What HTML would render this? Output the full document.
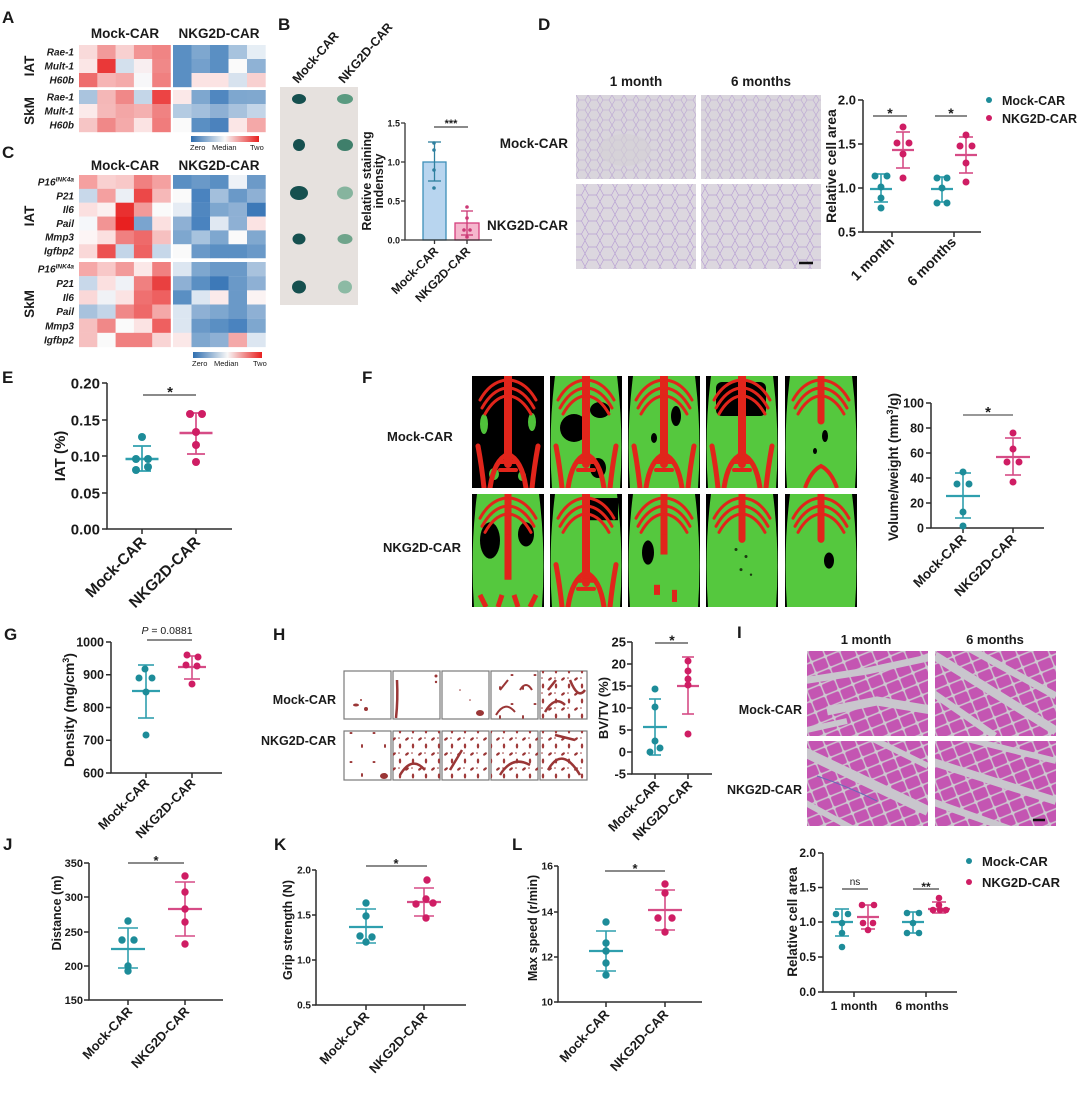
<!DOCTYPE html>
<html><head><meta charset="utf-8"><style>
html,body{margin:0;padding:0;background:#fff;}
svg{display:block;}
text{font-family:"Liberation Sans",Arial,sans-serif;font-weight:bold;fill:#1a1a1a;}
</style></head><body>
<svg width="1080" height="1095" viewBox="0 0 1080 1095" xmlns="http://www.w3.org/2000/svg">
<defs>
 <linearGradient id="cb" x1="0" x2="1" y1="0" y2="0">
  <stop offset="0" stop-color="#2f6fb0"/><stop offset="0.5" stop-color="#f7f7f7"/><stop offset="1" stop-color="#e8201f"/>
 </linearGradient>
 <pattern id="adi" width="12" height="10" patternUnits="userSpaceOnUse">
  <rect width="12" height="10" fill="#d9d5dc"/>
  <path d="M0 5 L3 0 L9 0 L12 5 L9 10 L3 10 Z" fill="none" stroke="#bba6d3" stroke-width="0.6"/>
 </pattern>
 <pattern id="adi2" width="15" height="13" patternUnits="userSpaceOnUse">
  <rect width="15" height="13" fill="#dcd7df"/>
  <path d="M0 6.5 L3.5 0 L11.5 0 L15 6.5 L11.5 13 L3.5 13 Z" fill="none" stroke="#b9a0d4" stroke-width="0.7"/>
 </pattern>
 <pattern id="mus" width="15" height="12" patternUnits="userSpaceOnUse" patternTransform="rotate(-22)">
  <rect width="15" height="12" fill="#cdc8d0"/>
  <rect x="0.7" y="0.7" width="13.6" height="10.6" rx="2" fill="#c455b2"/>
 </pattern>
 <pattern id="spA" width="23" height="29" patternUnits="userSpaceOnUse">
  <ellipse cx="6" cy="8" rx="1.5" ry="1" fill="#9a3636"/>
  <ellipse cx="17" cy="21" rx="1" ry="2" fill="#9a3636"/>
 </pattern>
 <pattern id="spB" width="13" height="15" patternUnits="userSpaceOnUse">
  <ellipse cx="4" cy="4" rx="2.2" ry="1.2" fill="#9a3636" transform="rotate(-40 4 4)"/>
  <ellipse cx="10" cy="11" rx="1.2" ry="2.5" fill="#a03a3a"/>
  <circle cx="9" cy="3" r="0.8" fill="#9a3636"/>
 </pattern>
 <g id="skel" fill="none" stroke="#e1251b" stroke-linecap="round">
  <path d="M36 0 V88" stroke-width="8"/>
  <path d="M34 4 Q18 6 8 24 M34 12 Q20 14 10 32 M34 20 Q22 22 13 38 M38 4 Q54 6 64 24 M38 12 Q52 14 62 32 M38 20 Q50 22 59 38" stroke-width="3"/>
  <path d="M36 78 Q22 84 18 112 M36 78 Q50 84 54 112 M6 70 Q10 92 12 112 M66 70 Q62 92 60 112" stroke-width="5"/>
  <path d="M28 86 H44 M28 94 H44" stroke-width="4"/>
 </g>
 <g id="ribs" fill="none" stroke="#e1251b" stroke-linecap="round">
  <path d="M36 0 V45" stroke-width="7"/>
  <path d="M34 4 Q18 6 8 24 M34 12 Q20 14 10 32 M34 20 Q22 22 13 38 M38 4 Q54 6 64 24 M38 12 Q52 14 62 32 M38 20 Q50 22 59 38" stroke-width="3"/>
 </g>
 <path id="body" d="M5 0 H67 Q74 56 70 112 H2 Q-2 56 5 0Z" fill="#55c83e"/>
</defs>

<!-- ================= A ================= -->
<text x="2" y="23" font-size="17">A</text>
<text x="125" y="38" font-size="13.5" text-anchor="middle">Mock-CAR</text>
<text x="219" y="38" font-size="13.5" text-anchor="middle">NKG2D-CAR</text>
<g>
<rect x="79" y="45" width="18.6" height="14.2" fill="#f9dada"/><rect x="97.3" y="45" width="18.6" height="14.2" fill="#f29a9a"/><rect x="115.6" y="45" width="18.6" height="14.2" fill="#f8d0d0"/><rect x="133.9" y="45" width="18.6" height="14.2" fill="#f29494"/><rect x="152.2" y="45" width="18.6" height="14.2" fill="#f08484"/>
<rect x="173" y="45" width="18.7" height="14.2" fill="#5a8fc3"/><rect x="191.5" y="45" width="18.7" height="14.2" fill="#7ea7cf"/><rect x="210" y="45" width="18.7" height="14.2" fill="#5a8fc3"/><rect x="228.5" y="45" width="18.7" height="14.2" fill="#a7c3de"/><rect x="247" y="45" width="18.7" height="14.2" fill="#e6eef5"/>
<rect x="79" y="59" width="18.6" height="14.2" fill="#fbe6e6"/><rect x="97.3" y="59" width="18.6" height="14.2" fill="#ea3838"/><rect x="115.6" y="59" width="18.6" height="14.2" fill="#d3e0ed"/><rect x="133.9" y="59" width="18.6" height="14.2" fill="#f8eef0"/><rect x="152.2" y="59" width="18.6" height="14.2" fill="#f08888"/>
<rect x="173" y="59" width="18.7" height="14.2" fill="#5a8fc3"/><rect x="191.5" y="59" width="18.7" height="14.2" fill="#74a0cc"/><rect x="210" y="59" width="18.7" height="14.2" fill="#5a8fc3"/><rect x="228.5" y="59" width="18.7" height="14.2" fill="#fafafa"/><rect x="247" y="59" width="18.7" height="14.2" fill="#8fb2d5"/>
<rect x="79" y="73" width="18.6" height="14.2" fill="#ee6c6c"/><rect x="97.3" y="73" width="18.6" height="14.2" fill="#f6b4b4"/><rect x="115.6" y="73" width="18.6" height="14.2" fill="#f4aaaa"/><rect x="133.9" y="73" width="18.6" height="14.2" fill="#f7f7f9"/><rect x="152.2" y="73" width="18.6" height="14.2" fill="#f08080"/>
<rect x="173" y="73" width="18.7" height="14.2" fill="#5a8fc3"/><rect x="191.5" y="73" width="18.7" height="14.2" fill="#fbe3e3"/><rect x="210" y="73" width="18.7" height="14.2" fill="#fbe3e3"/><rect x="228.5" y="73" width="18.7" height="14.2" fill="#d7e2ee"/><rect x="247" y="73" width="18.7" height="14.2" fill="#f8d0d0"/>

<rect x="79" y="90" width="18.6" height="14.2" fill="#aac4de"/><rect x="97.3" y="90" width="18.6" height="14.2" fill="#f4b7b7"/><rect x="115.6" y="90" width="18.6" height="14.2" fill="#f08888"/><rect x="133.9" y="90" width="18.6" height="14.2" fill="#c4d6e8"/><rect x="152.2" y="90" width="18.6" height="14.2" fill="#ec4444"/>
<rect x="173" y="90" width="18.7" height="14.2" fill="#fbe8e8"/><rect x="191.5" y="90" width="18.7" height="14.2" fill="#7ea7cf"/><rect x="210" y="90" width="18.7" height="14.2" fill="#5087c0"/><rect x="228.5" y="90" width="18.7" height="14.2" fill="#7ea7cf"/><rect x="247" y="90" width="18.7" height="14.2" fill="#80a8cf"/>
<rect x="79" y="104" width="18.6" height="14.2" fill="#fbeaea"/><rect x="97.3" y="104" width="18.6" height="14.2" fill="#f5b9b9"/><rect x="115.6" y="104" width="18.6" height="14.2" fill="#f3a6a6"/><rect x="133.9" y="104" width="18.6" height="14.2" fill="#f4b0b0"/><rect x="152.2" y="104" width="18.6" height="14.2" fill="#f08282"/>
<rect x="173" y="104" width="18.7" height="14.2" fill="#b4cbe2"/><rect x="191.5" y="104" width="18.7" height="14.2" fill="#a3bfdc"/><rect x="210" y="104" width="18.7" height="14.2" fill="#8eb0d4"/><rect x="228.5" y="104" width="18.7" height="14.2" fill="#a8c2dd"/><rect x="247" y="104" width="18.7" height="14.2" fill="#c3d5e8"/>
<rect x="79" y="118" width="18.6" height="14.2" fill="#f6c5c5"/><rect x="97.3" y="118" width="18.6" height="14.2" fill="#f08888"/><rect x="115.6" y="118" width="18.6" height="14.2" fill="#f4aaaa"/><rect x="133.9" y="118" width="18.6" height="14.2" fill="#fbe3e3"/><rect x="152.2" y="118" width="18.6" height="14.2" fill="#f07c7c"/>
<rect x="173" y="118" width="18.7" height="14.2" fill="#fafafa"/><rect x="191.5" y="118" width="18.7" height="14.2" fill="#5a8fc3"/><rect x="210" y="118" width="18.7" height="14.2" fill="#4b82bd"/><rect x="228.5" y="118" width="18.7" height="14.2" fill="#fbe6e6"/><rect x="247" y="118" width="18.7" height="14.2" fill="#f4a8a8"/>
</g>
<g font-size="10" font-style="italic" text-anchor="end">
<text x="74" y="55.5">Rae-1</text><text x="74" y="69.5">Mult-1</text><text x="74" y="83.5">H60b</text>
<text x="74" y="100.5">Rae-1</text><text x="74" y="114.5">Mult-1</text><text x="74" y="128.5">H60b</text>
</g>
<text transform="translate(34,66) rotate(-90)" font-size="13.5" text-anchor="middle">IAT</text>
<text transform="translate(34,111) rotate(-90)" font-size="13.5" text-anchor="middle">SkM</text>
<rect x="191" y="136" width="68" height="6" fill="url(#cb)"/>
<g font-size="7.5" fill="#333"><text x="190" y="150" style="font-weight:normal">Zero</text><text x="212" y="150" style="font-weight:normal">Median</text><text x="250" y="150" style="font-weight:normal">Two</text></g>

<!-- ================= C ================= -->
<text x="2" y="158" font-size="17">C</text>
<text x="125" y="170" font-size="13.5" text-anchor="middle">Mock-CAR</text>
<text x="219" y="170" font-size="13.5" text-anchor="middle">NKG2D-CAR</text>
<g>
<rect x="79" y="175" width="18.6" height="14" fill="#f5a0a0"/><rect x="97.3" y="175" width="18.6" height="14" fill="#f9d0d0"/><rect x="115.6" y="175" width="18.6" height="14" fill="#f8c8c8"/><rect x="133.9" y="175" width="18.6" height="14" fill="#f08080"/><rect x="152.2" y="175" width="18.6" height="14" fill="#f4a0a0"/>
<rect x="173" y="175" width="18.7" height="14" fill="#5a8fc3"/><rect x="191.5" y="175" width="18.7" height="14" fill="#6a99c8"/><rect x="210" y="175" width="18.7" height="14" fill="#5a8fc3"/><rect x="228.5" y="175" width="18.7" height="14" fill="#eef2f7"/><rect x="247" y="175" width="18.7" height="14" fill="#6c9ac8"/>
<rect x="79" y="188.85" width="18.6" height="14" fill="#c8d8ea"/><rect x="97.3" y="188.85" width="18.6" height="14" fill="#f4a0a0"/><rect x="115.6" y="188.85" width="18.6" height="14" fill="#ebeff5"/><rect x="133.9" y="188.85" width="18.6" height="14" fill="#ec4848"/><rect x="152.2" y="188.85" width="18.6" height="14" fill="#f6b8b8"/>
<rect x="173" y="188.85" width="18.7" height="14" fill="#fafafa"/><rect x="191.5" y="188.85" width="18.7" height="14" fill="#4a83bf"/><rect x="210" y="188.85" width="18.7" height="14" fill="#a3bfdc"/><rect x="228.5" y="188.85" width="18.7" height="14" fill="#6a99c8"/><rect x="247" y="188.85" width="18.7" height="14" fill="#8eb0d4"/>
<rect x="79" y="202.7" width="18.6" height="14" fill="#fbe0e0"/><rect x="97.3" y="202.7" width="18.6" height="14" fill="#fbf0f0"/><rect x="115.6" y="202.7" width="18.6" height="14" fill="#e93030"/><rect x="133.9" y="202.7" width="18.6" height="14" fill="#f29a9a"/><rect x="152.2" y="202.7" width="18.6" height="14" fill="#fafafa"/>
<rect x="173" y="202.7" width="18.7" height="14" fill="#e6ecf4"/><rect x="191.5" y="202.7" width="18.7" height="14" fill="#5087c0"/><rect x="210" y="202.7" width="18.7" height="14" fill="#7ea7cf"/><rect x="228.5" y="202.7" width="18.7" height="14" fill="#8eb0d4"/><rect x="247" y="202.7" width="18.7" height="14" fill="#3d79b8"/>
<rect x="79" y="216.55" width="18.6" height="14" fill="#f5f7fa"/><rect x="97.3" y="216.55" width="18.6" height="14" fill="#f29494"/><rect x="115.6" y="216.55" width="18.6" height="14" fill="#e82020"/><rect x="133.9" y="216.55" width="18.6" height="14" fill="#7aa4cf"/><rect x="152.2" y="216.55" width="18.6" height="14" fill="#fbe0e0"/>
<rect x="173" y="216.55" width="18.7" height="14" fill="#8eb0d4"/><rect x="191.5" y="216.55" width="18.7" height="14" fill="#4a83bf"/><rect x="210" y="216.55" width="18.7" height="14" fill="#e0e8f2"/><rect x="228.5" y="216.55" width="18.7" height="14" fill="#8eb0d4"/><rect x="247" y="216.55" width="18.7" height="14" fill="#fbe3e3"/>
<rect x="79" y="230.4" width="18.6" height="14" fill="#fdf5f5"/><rect x="97.3" y="230.4" width="18.6" height="14" fill="#fbe0e0"/><rect x="115.6" y="230.4" width="18.6" height="14" fill="#f08080"/><rect x="133.9" y="230.4" width="18.6" height="14" fill="#ee6a6a"/><rect x="152.2" y="230.4" width="18.6" height="14" fill="#f6c0c0"/>
<rect x="173" y="230.4" width="18.7" height="14" fill="#7ea7cf"/><rect x="191.5" y="230.4" width="18.7" height="14" fill="#a7c3de"/><rect x="210" y="230.4" width="18.7" height="14" fill="#7ea7cf"/><rect x="228.5" y="230.4" width="18.7" height="14" fill="#fafafa"/><rect x="247" y="230.4" width="18.7" height="14" fill="#80a8cf"/>
<rect x="79" y="244.25" width="18.6" height="14" fill="#fad8d8"/><rect x="97.3" y="244.25" width="18.6" height="14" fill="#ec5050"/><rect x="115.6" y="244.25" width="18.6" height="14" fill="#c3d5e8"/><rect x="133.9" y="244.25" width="18.6" height="14" fill="#ee6262"/><rect x="152.2" y="244.25" width="18.6" height="14" fill="#c6d7e9"/>
<rect x="173" y="244.25" width="18.7" height="14" fill="#fafafa"/><rect x="191.5" y="244.25" width="18.7" height="14" fill="#6a99c8"/><rect x="210" y="244.25" width="18.7" height="14" fill="#5a8fc3"/><rect x="228.5" y="244.25" width="18.7" height="14" fill="#5a8fc3"/><rect x="247" y="244.25" width="18.7" height="14" fill="#6a99c8"/>
<rect x="79" y="262" width="18.6" height="14.3" fill="#f5a8a8"/><rect x="97.3" y="262" width="18.6" height="14.3" fill="#f8c8c8"/><rect x="115.6" y="262" width="18.6" height="14.3" fill="#f29a9a"/><rect x="133.9" y="262" width="18.6" height="14.3" fill="#fbe8e8"/><rect x="152.2" y="262" width="18.6" height="14.3" fill="#f08080"/>
<rect x="173" y="262" width="18.7" height="14.3" fill="#dce6f1"/><rect x="191.5" y="262" width="18.7" height="14.3" fill="#7ea7cf"/><rect x="210" y="262" width="18.7" height="14.3" fill="#6a99c8"/><rect x="228.5" y="262" width="18.7" height="14.3" fill="#6a99c8"/><rect x="247" y="262" width="18.7" height="14.3" fill="#a8c2dd"/>
<rect x="79" y="276.17" width="18.6" height="14.3" fill="#c8d8ea"/><rect x="97.3" y="276.17" width="18.6" height="14.3" fill="#fbe0e0"/><rect x="115.6" y="276.17" width="18.6" height="14.3" fill="#eff2f7"/><rect x="133.9" y="276.17" width="18.6" height="14.3" fill="#f08080"/><rect x="152.2" y="276.17" width="18.6" height="14.3" fill="#e94040"/>
<rect x="173" y="276.17" width="18.7" height="14.3" fill="#8eb0d4"/><rect x="191.5" y="276.17" width="18.7" height="14.3" fill="#5a8fc3"/><rect x="210" y="276.17" width="18.7" height="14.3" fill="#3d79b8"/><rect x="228.5" y="276.17" width="18.7" height="14.3" fill="#6a99c8"/><rect x="247" y="276.17" width="18.7" height="14.3" fill="#8eb0d4"/>
<rect x="79" y="290.33" width="18.6" height="14.3" fill="#fad8d8"/><rect x="97.3" y="290.33" width="18.6" height="14.3" fill="#f0f2f6"/><rect x="115.6" y="290.33" width="18.6" height="14.3" fill="#fbe3e3"/><rect x="133.9" y="290.33" width="18.6" height="14.3" fill="#ef7070"/><rect x="152.2" y="290.33" width="18.6" height="14.3" fill="#ee6060"/>
<rect x="173" y="290.33" width="18.7" height="14.3" fill="#5a8fc3"/><rect x="191.5" y="290.33" width="18.7" height="14.3" fill="#dce6f1"/><rect x="210" y="290.33" width="18.7" height="14.3" fill="#fbeaea"/><rect x="228.5" y="290.33" width="18.7" height="14.3" fill="#6a99c8"/><rect x="247" y="290.33" width="18.7" height="14.3" fill="#fbf3f3"/>
<rect x="79" y="304.5" width="18.6" height="14.3" fill="#a8c2dd"/><rect x="97.3" y="304.5" width="18.6" height="14.3" fill="#c3d5e8"/><rect x="115.6" y="304.5" width="18.6" height="14.3" fill="#f08888"/><rect x="133.9" y="304.5" width="18.6" height="14.3" fill="#ee6868"/><rect x="152.2" y="304.5" width="18.6" height="14.3" fill="#f4a8a8"/>
<rect x="173" y="304.5" width="18.7" height="14.3" fill="#dce6f1"/><rect x="191.5" y="304.5" width="18.7" height="14.3" fill="#8eb0d4"/><rect x="210" y="304.5" width="18.7" height="14.3" fill="#7ea7cf"/><rect x="228.5" y="304.5" width="18.7" height="14.3" fill="#6a99c8"/><rect x="247" y="304.5" width="18.7" height="14.3" fill="#8eb0d4"/>
<rect x="79" y="318.67" width="18.6" height="14.3" fill="#f6c0c0"/><rect x="97.3" y="318.67" width="18.6" height="14.3" fill="#f08888"/><rect x="115.6" y="318.67" width="18.6" height="14.3" fill="#fafafa"/><rect x="133.9" y="318.67" width="18.6" height="14.3" fill="#fbe3e3"/><rect x="152.2" y="318.67" width="18.6" height="14.3" fill="#ee6060"/>
<rect x="173" y="318.67" width="18.7" height="14.3" fill="#dce6f1"/><rect x="191.5" y="318.67" width="18.7" height="14.3" fill="#6a99c8"/><rect x="210" y="318.67" width="18.7" height="14.3" fill="#5a8fc3"/><rect x="228.5" y="318.67" width="18.7" height="14.3" fill="#4a83bf"/><rect x="247" y="318.67" width="18.7" height="14.3" fill="#7ea7cf"/>
<rect x="79" y="332.83" width="18.6" height="14.3" fill="#f6c0c0"/><rect x="97.3" y="332.83" width="18.6" height="14.3" fill="#fafafa"/><rect x="115.6" y="332.83" width="18.6" height="14.3" fill="#f08080"/><rect x="133.9" y="332.83" width="18.6" height="14.3" fill="#f08080"/><rect x="152.2" y="332.83" width="18.6" height="14.3" fill="#f9d4d4"/>
<rect x="173" y="332.83" width="18.7" height="14.3" fill="#fbe8e8"/><rect x="191.5" y="332.83" width="18.7" height="14.3" fill="#7ea7cf"/><rect x="210" y="332.83" width="18.7" height="14.3" fill="#8eb0d4"/><rect x="228.5" y="332.83" width="18.7" height="14.3" fill="#f4a8a8"/><rect x="247" y="332.83" width="18.7" height="14.3" fill="#dce6f1"/>
</g>
<g font-size="10" font-style="italic" text-anchor="end">
<text x="74" y="185.5">P16<tspan dy="-4" font-size="6.5">INK4a</tspan></text>
<text x="74" y="199.3">P21</text><text x="74" y="213.1">Il6</text><text x="74" y="226.9">Pail</text><text x="74" y="240.7">Mmp3</text><text x="74" y="254.5">Igfbp2</text>
<text x="74" y="272.6">P16<tspan dy="-4" font-size="6.5">INK4a</tspan></text>
<text x="74" y="286.8">P21</text><text x="74" y="301">Il6</text><text x="74" y="315.2">Pail</text><text x="74" y="329.4">Mmp3</text><text x="74" y="343.6">Igfbp2</text>
</g>
<text transform="translate(34,216) rotate(-90)" font-size="13.5" text-anchor="middle">IAT</text>
<text transform="translate(34,304) rotate(-90)" font-size="13.5" text-anchor="middle">SkM</text>
<rect x="193" y="352" width="69" height="6" fill="url(#cb)"/>
<g font-size="7.5" fill="#333"><text x="192" y="366" style="font-weight:normal">Zero</text><text x="214" y="366" style="font-weight:normal">Median</text><text x="253" y="366" style="font-weight:normal">Two</text></g>

<!-- ================= B ================= -->
<text x="278" y="30" font-size="17">B</text>
<text transform="translate(298,84) rotate(-49)" font-size="12.5">Mock-CAR</text>
<text transform="translate(344,84) rotate(-49)" font-size="12.5">NKG2D-CAR</text>
<rect x="280" y="87" width="78" height="218" fill="#e6e1de"/>
<g fill="#16504f">
<ellipse cx="299" cy="99" rx="7" ry="5"/><ellipse cx="299" cy="145" rx="6" ry="6"/><ellipse cx="299" cy="193" rx="9" ry="7"/><ellipse cx="299" cy="239" rx="6.5" ry="5.5"/><ellipse cx="299" cy="287" rx="7" ry="6.5"/>
</g>
<g>
<ellipse cx="345" cy="99" rx="8" ry="5" fill="#5a9a80"/><ellipse cx="345" cy="145" rx="8" ry="6" fill="#3f7f6b"/><ellipse cx="345" cy="193" rx="8" ry="6.5" fill="#86b49e"/><ellipse cx="345" cy="239" rx="7.5" ry="5" fill="#6fa48b"/><ellipse cx="345" cy="287" rx="7" ry="6.5" fill="#8cbaa4"/>
</g>
<!-- B chart -->
<rect x="423" y="162" width="23" height="78" fill="#b8d5ef" stroke="#3d8fb8" stroke-width="1.3"/>
<rect x="455" y="223" width="24" height="17" fill="#f5b7cd" stroke="#d53f7d" stroke-width="1.3"/>
<g stroke="#2e7f9e" stroke-width="1.3"><line x1="434.5" x2="434.5" y1="142" y2="181"/><line x1="428" x2="441" y1="142" y2="142"/><line x1="428" x2="441" y1="181" y2="181"/></g>
<g stroke="#cc3a76" stroke-width="1.3"><line x1="467" x2="467" y1="211" y2="235"/><line x1="461" x2="473" y1="211" y2="211"/><line x1="461" x2="473" y1="235" y2="235"/></g>
<g fill="#2e7f9e"><circle cx="434" cy="143" r="1.8"/><circle cx="434" cy="150" r="1.8"/><circle cx="434" cy="170" r="1.8"/><circle cx="434" cy="188" r="1.8"/></g>
<g fill="#cc3a76"><circle cx="467" cy="207" r="1.8"/><circle cx="467" cy="218" r="1.8"/><circle cx="464" cy="230" r="1.8"/><circle cx="470" cy="230" r="1.8"/><circle cx="467" cy="237" r="1.8"/></g>
<g stroke="#333" stroke-width="1.3" fill="none"><path d="M405 123 V240 H492"/><path d="M401 123 H405 M401 162 H405 M401 201 H405 M401 240 H405 M434.5 240 V244 M467 240 V244"/></g>
<g font-size="9" text-anchor="end"><text x="400" y="126.5">1.5</text><text x="400" y="165.5">1.0</text><text x="400" y="204.5">0.5</text><text x="400" y="243.5">0.0</text></g>
<line x1="434" x2="468" y1="127" y2="127" stroke="#444" stroke-width="1.2"/>
<text x="451" y="127" font-size="11" text-anchor="middle">***</text>
<text transform="translate(371,181) rotate(-90)" font-size="12.5" text-anchor="middle">Relative staining</text>
<text transform="translate(383,181) rotate(-90)" font-size="12.5" text-anchor="middle">indensity</text>
<text transform="translate(439,252) rotate(-45)" font-size="12" text-anchor="end">Mock-CAR</text>
<text transform="translate(471,252) rotate(-45)" font-size="12" text-anchor="end">NKG2D-CAR</text>

<!-- ================= D ================= -->
<text x="538" y="30" font-size="17">D</text>
<text x="636" y="86" font-size="13.5" text-anchor="middle">1 month</text>
<text x="761" y="86" font-size="13.5" text-anchor="middle">6 months</text>
<text x="568" y="148" font-size="13.5" text-anchor="end">Mock-CAR</text>
<text x="568" y="230" font-size="13.5" text-anchor="end">NKG2D-CAR</text>
<rect x="576" y="95" width="120" height="84" fill="url(#adi)"/>
<ellipse cx="625" cy="150" rx="26" ry="16" fill="#d3d1d5" opacity="0.6"/>
<rect x="701" y="95" width="120" height="84" fill="url(#adi)"/>
<rect x="576" y="184" width="120" height="85" fill="url(#adi2)"/>
<rect x="701" y="184" width="120" height="85" fill="url(#adi2)"/>
<line x1="799" x2="813" y1="263" y2="263" stroke="#111" stroke-width="2.5"/>
<!-- D chart -->
<g stroke="#2b2b2b" stroke-width="1.5" fill="none"><path d="M863 100 V232 H981"/><path d="M858 100 H863 M858 144 H863 M858 188 H863 M858 232 H863 M892 232 V237 M954 232 V237"/></g>
<g font-size="13" text-anchor="end"><text x="856" y="104.5">2.0</text><text x="856" y="148.5">1.5</text><text x="856" y="192.5">1.0</text><text x="856" y="236.5">0.5</text></g>
<text transform="translate(836,166) rotate(-90)" font-size="14" text-anchor="middle">Relative cell area</text>
<g stroke="#2f9fae" stroke-width="1.6">
<line x1="870" x2="892" y1="189" y2="189" stroke-width="2.2"/><line x1="881" x2="881" y1="174" y2="202"/><line x1="874" x2="888" y1="174" y2="174"/><line x1="874" x2="888" y1="202" y2="202"/>
<line x1="931" x2="953" y1="189" y2="189" stroke-width="2.2"/><line x1="942" x2="942" y1="177" y2="202"/><line x1="935" x2="949" y1="177" y2="177"/><line x1="935" x2="949" y1="202" y2="202"/>
</g>
<g stroke="#d64c86" stroke-width="1.6">
<line x1="892" x2="914" y1="150" y2="150" stroke-width="2.2"/><line x1="903" x2="903" y1="132" y2="168"/><line x1="896" x2="910" y1="132" y2="132"/><line x1="896" x2="910" y1="168" y2="168"/>
<line x1="955" x2="977" y1="155" y2="155" stroke-width="2.2"/><line x1="966" x2="966" y1="137" y2="173"/><line x1="959" x2="973" y1="137" y2="137"/><line x1="959" x2="973" y1="173" y2="173"/>
</g>
<g fill="#1d8c99"><circle cx="875" cy="176" r="3.5"/><circle cx="887" cy="176" r="3.5"/><circle cx="881" cy="187" r="3.5"/><circle cx="881" cy="198" r="3.5"/><circle cx="881" cy="208" r="3.5"/>
<circle cx="937" cy="178" r="3.5"/><circle cx="947" cy="178" r="3.5"/><circle cx="942" cy="188" r="3.5"/><circle cx="937" cy="203" r="3.5"/><circle cx="947" cy="203" r="3.5"/></g>
<g fill="#cf1d64"><circle cx="903" cy="127" r="3.5"/><circle cx="897" cy="143" r="3.5"/><circle cx="909" cy="143" r="3.5"/><circle cx="903" cy="154" r="3.5"/><circle cx="903" cy="178" r="3.5"/>
<circle cx="966" cy="135" r="3.5"/><circle cx="960" cy="146" r="3.5"/><circle cx="972" cy="146" r="3.5"/><circle cx="966" cy="163" r="3.5"/><circle cx="966" cy="182" r="3.5"/></g>
<g stroke="#444" stroke-width="1.2"><line x1="873" x2="907" y1="116" y2="116"/><line x1="935" x2="967" y1="116" y2="116"/></g>
<g font-size="14" text-anchor="middle"><text x="890" y="118">*</text><text x="951" y="118">*</text></g>
<circle cx="989" cy="100" r="3" fill="#1d8c99"/><circle cx="989" cy="118" r="3" fill="#cf1d64"/>
<text x="1002" y="105" font-size="12.5">Mock-CAR</text><text x="1002" y="123" font-size="12.5">NKG2D-CAR</text>
<text transform="translate(895,243) rotate(-45)" font-size="14" text-anchor="end">1 month</text>
<text transform="translate(957,243) rotate(-45)" font-size="14" text-anchor="end">6 months</text>

<!-- ================= E ================= -->
<text x="2" y="383" font-size="17">E</text>
<g stroke="#2b2b2b" stroke-width="1.5" fill="none"><path d="M107 383 V529 H232"/><path d="M102 383 H107 M102 420 H107 M102 456 H107 M102 493 H107 M102 529 H107 M142 529 V534 M196 529 V534"/></g>
<g font-size="15" text-anchor="end"><text x="100" y="388.5">0.20</text><text x="100" y="425.5">0.15</text><text x="100" y="461.5">0.10</text><text x="100" y="498.5">0.05</text><text x="100" y="534.5">0.00</text></g>
<text transform="translate(65,456) rotate(-90)" font-size="15" text-anchor="middle">IAT (%)</text>
<g stroke="#2f9fae" stroke-width="1.7"><line x1="125.5" x2="158.5" y1="459" y2="459" stroke-width="2.4"/><line x1="142" x2="142" y1="446" y2="471"/><line x1="133" x2="151" y1="446" y2="446"/><line x1="133" x2="151" y1="471" y2="471"/></g>
<g stroke="#d64c86" stroke-width="1.7"><line x1="179.5" x2="212.5" y1="433" y2="433" stroke-width="2.4"/><line x1="196" x2="196" y1="413" y2="454"/><line x1="187" x2="205" y1="413" y2="413"/><line x1="187" x2="205" y1="454" y2="454"/></g>
<g fill="#1d8c99"><circle cx="142" cy="437" r="4"/><circle cx="136" cy="459" r="4"/><circle cx="148" cy="459" r="4"/><circle cx="136" cy="470" r="4"/><circle cx="148" cy="467" r="4"/></g>
<g fill="#cf1d64"><circle cx="190" cy="414" r="4"/><circle cx="202" cy="414" r="4"/><circle cx="196" cy="432" r="4"/><circle cx="196" cy="445" r="4"/><circle cx="196" cy="462" r="4"/></g>
<line x1="143" x2="196" y1="395" y2="395" stroke="#444" stroke-width="1.2"/>
<text x="170" y="397" font-size="15" text-anchor="middle">*</text>
<text transform="translate(147,543) rotate(-45)" font-size="15.5" text-anchor="end">Mock-CAR</text>
<text transform="translate(201,543) rotate(-45)" font-size="15.5" text-anchor="end">NKG2D-CAR</text>

<!-- ================= F ================= -->
<text x="362" y="383" font-size="17">F</text>
<text x="387" y="441" font-size="13">Mock-CAR</text>
<text x="383" y="552" font-size="13">NKG2D-CAR</text>
<svg x="472" y="376" width="72" height="112" viewBox="0 0 72 112" preserveAspectRatio="none">
 <rect width="72" height="112" fill="#000"/>
 <g fill="#4fc23a"><ellipse cx="12" cy="48" rx="4" ry="10"/><ellipse cx="60" cy="46" rx="4" ry="9"/><ellipse cx="22" cy="98" rx="5" ry="6"/><ellipse cx="50" cy="100" rx="4" ry="5"/></g>
 <use href="#skel"/>
</svg>
<svg x="550" y="376" width="72" height="112" viewBox="0 0 72 112" preserveAspectRatio="none">
 <rect width="72" height="112" fill="#000"/><use href="#body"/>
 <g fill="#000"><ellipse cx="24" cy="52" rx="14" ry="14"/><ellipse cx="50" cy="34" rx="10" ry="8"/><ellipse cx="48" cy="92" rx="8" ry="10"/></g>
 <use href="#skel"/>
</svg>
<svg x="628" y="376" width="72" height="112" viewBox="0 0 72 112" preserveAspectRatio="none">
 <rect width="72" height="112" fill="#000"/><use href="#body"/>
 <g fill="#000"><ellipse cx="48" cy="40" rx="5" ry="10"/><ellipse cx="26" cy="62" rx="3" ry="5"/></g>
 <use href="#skel"/>
</svg>
<svg x="706" y="376" width="72" height="112" viewBox="0 0 72 112" preserveAspectRatio="none">
 <rect width="72" height="112" fill="#000"/><use href="#body"/>
 <rect x="10" y="6" width="50" height="34" rx="6" fill="#000"/>
 <use href="#skel"/>
</svg>
<svg x="785" y="376" width="72" height="112" viewBox="0 0 72 112" preserveAspectRatio="none">
 <rect width="72" height="112" fill="#000"/><use href="#body"/>
 <g fill="#000"><ellipse cx="40" cy="60" rx="3" ry="6"/><ellipse cx="30" cy="75" rx="2" ry="3"/></g>
 <use href="#ribs"/>
 <path d="M20 112 Q26 95 36 90 Q46 95 52 112" stroke="#e1251b" stroke-width="4" fill="none"/>
</svg>
<svg x="472" y="494" width="72" height="113" viewBox="0 0 72 112" preserveAspectRatio="none">
 <rect width="72" height="112" fill="#000"/><use href="#body"/>
 <g fill="#000"><ellipse cx="18" cy="46" rx="10" ry="18"/><ellipse cx="54" cy="40" rx="8" ry="12"/></g>
 <use href="#ribs"/>
 <path d="M36 40 V85" stroke="#e1251b" stroke-width="7"/>
 <path d="M8 100 L14 112 M64 100 L58 112 M30 100 L26 112 M42 100 L46 112" stroke="#e1251b" stroke-width="5"/>
</svg>
<svg x="550" y="494" width="72" height="113" viewBox="0 0 72 112" preserveAspectRatio="none">
 <rect width="72" height="112" fill="#000"/><use href="#body"/>
 <rect x="34" y="4" width="34" height="22" fill="#000"/>
 <use href="#skel"/>
</svg>
<svg x="628" y="494" width="72" height="113" viewBox="0 0 72 112" preserveAspectRatio="none">
 <rect width="72" height="112" fill="#000"/><use href="#body"/>
 <g fill="#000"><ellipse cx="20" cy="58" rx="6" ry="12"/></g>
 <use href="#ribs"/>
 <path d="M36 40 V60" stroke="#e1251b" stroke-width="7"/>
 <g fill="#e1251b"><rect x="26" y="90" width="6" height="10"/><rect x="44" y="95" width="5" height="12"/></g>
</svg>
<svg x="706" y="494" width="72" height="113" viewBox="0 0 72 112" preserveAspectRatio="none">
 <rect width="72" height="112" fill="#000"/><use href="#body"/>
 <g fill="#1a3a10"><circle cx="30" cy="55" r="1.5"/><circle cx="40" cy="62" r="1.5"/><circle cx="35" cy="75" r="1.5"/><circle cx="45" cy="80" r="1.2"/></g>
 <use href="#ribs"/>
</svg>
<svg x="785" y="494" width="72" height="113" viewBox="0 0 72 112" preserveAspectRatio="none">
 <rect width="72" height="112" fill="#000"/><use href="#body"/>
 <ellipse cx="44" cy="66" rx="5" ry="8" fill="#000"/>
 <use href="#ribs"/>
</svg>
<!-- F chart -->
<g stroke="#2b2b2b" stroke-width="1.5" fill="none"><path d="M931 403 V528 H1044"/><path d="M926 403 H931 M926 428 H931 M926 453 H931 M926 478 H931 M926 503 H931 M926 528 H931 M963 528 V533 M1013 528 V533"/></g>
<g font-size="12.5" text-anchor="end"><text x="924" y="407.5">100</text><text x="924" y="432.5">80</text><text x="924" y="457.5">60</text><text x="924" y="482.5">40</text><text x="924" y="507.5">20</text><text x="924" y="532.5">0</text></g>
<text transform="translate(898,467) rotate(-90)" font-size="13.5" text-anchor="middle">Volume/weight (mm<tspan dy="-5" font-size="9">3</tspan><tspan dy="5">/g)</tspan></text>
<g stroke="#2f9fae" stroke-width="1.6"><line x1="946" x2="980" y1="496" y2="496" stroke-width="2.2"/><line x1="963" x2="963" y1="473" y2="518"/><line x1="955" x2="971" y1="473" y2="473"/><line x1="955" x2="971" y1="518" y2="518"/></g>
<g stroke="#d64c86" stroke-width="1.6"><line x1="996" x2="1030" y1="457" y2="457" stroke-width="2.2"/><line x1="1013" x2="1013" y1="438" y2="475"/><line x1="1005" x2="1021" y1="438" y2="438"/><line x1="1005" x2="1021" y1="475" y2="475"/></g>
<g fill="#1d8c99"><circle cx="963" cy="472" r="3.5"/><circle cx="957" cy="484" r="3.5"/><circle cx="969" cy="484" r="3.5"/><circle cx="963" cy="512" r="3.5"/><circle cx="963" cy="526" r="3.5"/></g>
<g fill="#cf1d64"><circle cx="1013" cy="433" r="3.5"/><circle cx="1013" cy="449" r="3.5"/><circle cx="1007" cy="462" r="3.5"/><circle cx="1019" cy="462" r="3.5"/><circle cx="1013" cy="482" r="3.5"/></g>
<line x1="963" x2="1013" y1="415" y2="415" stroke="#777" stroke-width="1.5"/>
<text x="988" y="417" font-size="15" text-anchor="middle">*</text>
<text transform="translate(967,540) rotate(-45)" font-size="13.5" text-anchor="end">Mock-CAR</text>
<text transform="translate(1017,540) rotate(-45)" font-size="13.5" text-anchor="end">NKG2D-CAR</text>

<!-- ================= G ================= -->
<text x="4" y="640" font-size="17">G</text>
<g stroke="#2b2b2b" stroke-width="1.5" fill="none"><path d="M111 642 V773 H222"/><path d="M106 642 H111 M106 674.75 H111 M106 707.5 H111 M106 740.25 H111 M106 773 H111 M146 773 V778 M192 773 V778"/></g>
<g font-size="12.5" text-anchor="end"><text x="104" y="646.5">1000</text><text x="104" y="679">900</text><text x="104" y="712">800</text><text x="104" y="744.5">700</text><text x="104" y="777.5">600</text></g>
<text transform="translate(74,710) rotate(-90)" font-size="14" text-anchor="middle">Density (mg/cm<tspan dy="-5" font-size="9">3</tspan><tspan dy="5">)</tspan></text>
<g stroke="#2f9fae" stroke-width="1.6"><line x1="132" x2="160" y1="691" y2="691" stroke-width="2.2"/><line x1="146" x2="146" y1="665" y2="718"/><line x1="138" x2="154" y1="665" y2="665"/><line x1="138" x2="154" y1="718" y2="718"/></g>
<g stroke="#d64c86" stroke-width="1.6"><line x1="178" x2="206" y1="667" y2="667" stroke-width="2.2"/><line x1="192" x2="192" y1="656" y2="679"/><line x1="184" x2="200" y1="656" y2="656"/><line x1="184" x2="200" y1="679" y2="679"/></g>
<g fill="#1d8c99"><circle cx="145" cy="669" r="3.5"/><circle cx="139" cy="678" r="3.5"/><circle cx="152" cy="678" r="3.5"/><circle cx="146" cy="692" r="3.5"/><circle cx="146" cy="735" r="3.5"/></g>
<g fill="#cf1d64"><circle cx="187" cy="655" r="3.5"/><circle cx="198" cy="657" r="3.5"/><circle cx="186" cy="665" r="3.5"/><circle cx="197" cy="666" r="3.5"/><circle cx="192" cy="684" r="3.5"/></g>
<line x1="147" x2="192" y1="640" y2="640" stroke="#444" stroke-width="1.2"/>
<text x="167" y="634" font-size="10.5" text-anchor="middle" style="font-weight:normal"><tspan font-style="italic">P</tspan> = 0.0881</text>
<text transform="translate(150,784) rotate(-45)" font-size="13" text-anchor="end">Mock-CAR</text>
<text transform="translate(196,784) rotate(-45)" font-size="13" text-anchor="end">NKG2D-CAR</text>

<!-- ================= H ================= -->
<text x="273" y="640" font-size="17">H</text>
<text x="336" y="704" font-size="12.5" text-anchor="end">Mock-CAR</text>
<text x="336" y="745" font-size="12.5" text-anchor="end">NKG2D-CAR</text>
<g stroke="#7a7a7a" stroke-width="1.2">
<rect x="344" y="671" width="47" height="48" fill="#fff"/><rect x="393" y="671" width="47" height="48" fill="#fff"/><rect x="442" y="671" width="47" height="48" fill="#fff"/><rect x="491" y="671" width="47" height="48" fill="#fff"/><rect x="540" y="671" width="47" height="48" fill="#fff"/>
<rect x="344" y="731" width="47" height="49" fill="#fff"/><rect x="393" y="731" width="47" height="49" fill="#fff"/><rect x="442" y="731" width="47" height="49" fill="#fff"/><rect x="491" y="731" width="47" height="49" fill="#fff"/><rect x="540" y="731" width="47" height="49" fill="#fff"/>
</g>
<g fill="#9a3636">
<ellipse cx="356" cy="705" rx="3" ry="1.5"/><ellipse cx="366" cy="709" rx="2" ry="2"/><circle cx="361" cy="700" r="1"/>
<path d="M396 718 Q398 700 397 680" stroke="#9a3636" stroke-width="2.5" fill="none"/><circle cx="436" cy="676" r="1.5"/><circle cx="436" cy="682" r="1.2"/>
<ellipse cx="480" cy="713" rx="4" ry="3"/><circle cx="460" cy="690" r="0.8"/><circle cx="470" cy="700" r="0.8"/>
</g>
<rect x="491" y="671" width="47" height="48" fill="url(#spA)"/>
<path d="M496 715 Q505 700 515 712 M520 690 Q526 680 532 690 M500 690 L508 680" stroke="#9a3636" stroke-width="2" fill="none"/>
<rect x="540" y="671" width="47" height="48" fill="url(#spB)"/>
<path d="M545 712 Q555 695 565 705 M570 680 Q578 700 585 690 M548 690 L556 680" stroke="#9a3636" stroke-width="2.5" fill="none"/>
<rect x="344" y="731" width="47" height="49" fill="url(#spA)"/>
<ellipse cx="384" cy="776" rx="4" ry="3" fill="#9a3636"/>
<rect x="393" y="731" width="47" height="49" fill="url(#spB)"/>
<rect x="442" y="731" width="47" height="49" fill="url(#spB)"/>
<rect x="491" y="731" width="47" height="49" fill="url(#spB)"/>
<rect x="540" y="731" width="47" height="49" fill="url(#spB)"/>
<path d="M400 775 Q412 755 425 770 M450 770 L462 750 M500 775 Q512 755 530 765 M548 770 Q562 745 580 775 M555 735 L575 740" stroke="#9a3636" stroke-width="2.5" fill="none"/>
<!-- H chart -->
<g stroke="#2b2b2b" stroke-width="1.5" fill="none"><path d="M632 642 V774 H712"/><path d="M627 642 H632 M627 664 H632 M627 686 H632 M627 708 H632 M627 730 H632 M627 752 H632 M627 774 H632 M655 774 V779 M688 774 V779"/></g>
<g font-size="13" text-anchor="end"><text x="626" y="646.5">25</text><text x="626" y="668.5">20</text><text x="626" y="690.5">15</text><text x="626" y="712.5">10</text><text x="626" y="734.5">5</text><text x="626" y="756.5">0</text><text x="626" y="778.5">-5</text></g>
<text transform="translate(608,708) rotate(-90)" font-size="13" text-anchor="middle">BV/TV (%)</text>
<g stroke="#2f9fae" stroke-width="1.6"><line x1="643" x2="667" y1="727" y2="727" stroke-width="2.2"/><line x1="655" x2="655" y1="699" y2="755"/><line x1="649" x2="661" y1="699" y2="699"/><line x1="649" x2="661" y1="755" y2="755"/></g>
<g stroke="#d64c86" stroke-width="1.6"><line x1="677" x2="699" y1="686" y2="686" stroke-width="2.2"/><line x1="688" x2="688" y1="657" y2="714"/><line x1="682" x2="694" y1="657" y2="657"/><line x1="682" x2="694" y1="714" y2="714"/></g>
<g fill="#1d8c99"><circle cx="655" cy="689" r="3.5"/><circle cx="655" cy="707" r="3.5"/><circle cx="655" cy="741" r="3.5"/><circle cx="660" cy="748" r="3.5"/><circle cx="650" cy="752" r="3.5"/></g>
<g fill="#cf1d64"><circle cx="688" cy="661" r="3.5"/><circle cx="688" cy="671" r="3.5"/><circle cx="688" cy="679" r="3.5"/><circle cx="688" cy="685" r="3.5"/><circle cx="688" cy="734" r="3.5"/></g>
<line x1="655" x2="688" y1="643" y2="643" stroke="#444" stroke-width="1.2"/>
<text x="672" y="645" font-size="14" text-anchor="middle">*</text>
<text transform="translate(660,786) rotate(-45)" font-size="13" text-anchor="end">Mock-CAR</text>
<text transform="translate(693,786) rotate(-45)" font-size="13" text-anchor="end">NKG2D-CAR</text>

<!-- ================= I ================= -->
<text x="737" y="638" font-size="17">I</text>
<text x="866" y="644" font-size="13" text-anchor="middle">1 month</text>
<text x="995" y="644" font-size="13" text-anchor="middle">6 months</text>
<text x="802" y="714" font-size="12.5" text-anchor="end">Mock-CAR</text>
<text x="802" y="794" font-size="12.5" text-anchor="end">NKG2D-CAR</text>
<svg x="807" y="651" width="121" height="85">
 <rect width="121" height="85" fill="url(#mus)"/>
 <g stroke="#c9c6cd" fill="none"><path d="M-5 30 L60 20 L130 5" stroke-width="7"/><path d="M20 60 L70 50 L130 60" stroke-width="9"/><path d="M-5 80 L40 70" stroke-width="6"/></g>
</svg>
<svg x="935" y="651" width="121" height="85">
 <rect width="121" height="85" fill="url(#mus)"/>
 <g stroke="#c9c6cd" fill="none"><path d="M0 5 L121 80" stroke-width="9"/><path d="M30 -5 L121 45" stroke-width="7"/><path d="M-5 40 L60 85" stroke-width="7"/></g>
</svg>
<svg x="807" y="741" width="121" height="85">
 <rect width="121" height="85" fill="url(#mus)"/>
 <g stroke="#c9c6cd" fill="none"><path d="M-5 10 L121 70" stroke-width="10"/><path d="M60 -5 L121 25" stroke-width="6"/><path d="M-5 60 L50 90" stroke-width="6"/></g>
 <path d="M10 35 Q40 45 70 60" stroke="#6a6ab8" stroke-width="1" fill="none"/>
</svg>
<svg x="935" y="741" width="121" height="85">
 <rect width="121" height="85" fill="url(#mus)"/>
 <g stroke="#c9c6cd" fill="none"><path d="M-5 20 L121 60" stroke-width="8"/><path d="M20 -5 L121 20" stroke-width="6"/><path d="M-5 60 L80 90" stroke-width="7"/></g>
</svg>
<line x1="1033" x2="1045" y1="820" y2="820" stroke="#111" stroke-width="2.5"/>
<!-- I chart -->
<g stroke="#2b2b2b" stroke-width="1.5" fill="none"><path d="M823 853 V992 H957"/><path d="M818 853 H823 M818 887.5 H823 M818 922 H823 M818 957 H823 M818 992 H823 M854 992 V997 M926 992 V997"/></g>
<g font-size="12" text-anchor="end"><text x="816" y="857">2.0</text><text x="816" y="891.5">1.5</text><text x="816" y="926">1.0</text><text x="816" y="961">0.5</text><text x="816" y="996">0.0</text></g>
<text transform="translate(797,922) rotate(-90)" font-size="13.5" text-anchor="middle">Relative  cell area</text>
<g stroke="#2f9fae" stroke-width="1.6">
<line x1="831" x2="853" y1="922" y2="922" stroke-width="2.2"/><line x1="842" x2="842" y1="909" y2="936"/><line x1="835" x2="849" y1="909" y2="909"/><line x1="835" x2="849" y1="936" y2="936"/>
<line x1="902" x2="924" y1="922" y2="922" stroke-width="2.2"/><line x1="913" x2="913" y1="912" y2="933"/><line x1="906" x2="920" y1="912" y2="912"/><line x1="906" x2="920" y1="933" y2="933"/>
</g>
<g stroke="#d64c86" stroke-width="1.6">
<line x1="857" x2="879" y1="917" y2="917" stroke-width="2.2"/><line x1="868" x2="868" y1="905" y2="929"/><line x1="861" x2="875" y1="905" y2="905"/><line x1="861" x2="875" y1="929" y2="929"/>
<line x1="928" x2="950" y1="909" y2="909" stroke-width="2.2"/><line x1="939" x2="939" y1="902" y2="913"/><line x1="932" x2="946" y1="902" y2="902"/><line x1="932" x2="946" y1="913" y2="913"/>
</g>
<g fill="#1d8c99"><circle cx="836" cy="914" r="3.3"/><circle cx="848" cy="914" r="3.3"/><circle cx="842" cy="923" r="3.3"/><circle cx="842" cy="933" r="3.3"/><circle cx="842" cy="947" r="3.3"/>
<circle cx="907" cy="913" r="3.3"/><circle cx="919" cy="913" r="3.3"/><circle cx="913" cy="923" r="3.3"/><circle cx="907" cy="933" r="3.3"/><circle cx="919" cy="933" r="3.3"/></g>
<g fill="#cf1d64"><circle cx="862" cy="905" r="3.3"/><circle cx="874" cy="905" r="3.3"/><circle cx="863" cy="923" r="3.3"/><circle cx="873" cy="923" r="3.3"/><circle cx="868" cy="930" r="3.3"/>
<circle cx="939" cy="898" r="3.3"/><circle cx="933" cy="910" r="3.3"/><circle cx="940" cy="910" r="3.3"/><circle cx="946" cy="910" r="3.3"/><circle cx="939" cy="905" r="3.3"/></g>
<g stroke="#444" stroke-width="1.2"><line x1="842" x2="868" y1="889" y2="889"/><line x1="913" x2="939" y1="889" y2="889"/></g>
<text x="855" y="885" font-size="10" text-anchor="middle" style="font-weight:normal">ns</text>
<text x="926" y="891" font-size="12" text-anchor="middle">**</text>
<circle cx="969" cy="861" r="3" fill="#1d8c99"/><circle cx="969" cy="882" r="3" fill="#cf1d64"/>
<text x="982" y="866" font-size="13">Mock-CAR</text><text x="982" y="887" font-size="13">NKG2D-CAR</text>
<text x="854" y="1010" font-size="12" text-anchor="middle">1 month</text>
<text x="922" y="1010" font-size="12" text-anchor="middle">6 months</text>

<!-- ================= J ================= -->
<text x="3" y="850" font-size="17">J</text>
<g stroke="#2b2b2b" stroke-width="1.5" fill="none"><path d="M89 863 V1000 H223"/><path d="M84 863 H89 M84 897 H89 M84 932 H89 M84 966 H89 M84 1000 H89 M128 1000 V1005 M185 1000 V1005"/></g>
<g font-size="11" text-anchor="end"><text x="83" y="867">350</text><text x="83" y="901">300</text><text x="83" y="936">250</text><text x="83" y="970">200</text><text x="83" y="1004">150</text></g>
<text transform="translate(61,913) rotate(-90)" font-size="12.5" text-anchor="middle">Distance (m)</text>
<g stroke="#2f9fae" stroke-width="1.6"><line x1="111" x2="145" y1="949" y2="949" stroke-width="2.2"/><line x1="128" x2="128" y1="928" y2="968"/><line x1="118" x2="138" y1="928" y2="928"/><line x1="118" x2="138" y1="968" y2="968"/></g>
<g stroke="#d64c86" stroke-width="1.6"><line x1="168" x2="202" y1="909" y2="909" stroke-width="2.2"/><line x1="185" x2="185" y1="882" y2="936"/><line x1="175" x2="195" y1="882" y2="882"/><line x1="175" x2="195" y1="936" y2="936"/></g>
<g fill="#1d8c99"><circle cx="128" cy="921" r="3.7"/><circle cx="122" cy="940" r="3.7"/><circle cx="134" cy="940" r="3.7"/><circle cx="128" cy="966" r="3.7"/><circle cx="128" cy="971" r="3.7"/></g>
<g fill="#cf1d64"><circle cx="185" cy="876" r="3.7"/><circle cx="185" cy="892" r="3.7"/><circle cx="185" cy="909" r="3.7"/><circle cx="185" cy="922" r="3.7"/><circle cx="185" cy="944" r="3.7"/></g>
<line x1="128" x2="184" y1="863" y2="863" stroke="#444" stroke-width="1.2"/>
<text x="156" y="865" font-size="13" text-anchor="middle">*</text>
<text transform="translate(133,1012) rotate(-47)" font-size="13" text-anchor="end">Mock-CAR</text>
<text transform="translate(190,1012) rotate(-47)" font-size="13" text-anchor="end">NKG2D-CAR</text>

<!-- ================= K ================= -->
<text x="274" y="850" font-size="17">K</text>
<g stroke="#2b2b2b" stroke-width="1.5" fill="none"><path d="M316 870 V1005 H466"/><path d="M312 870 H316 M312 915 H316 M312 960 H316 M312 1005 H316 M366 1005 V1010 M424 1005 V1010"/></g>
<g font-size="10" text-anchor="end"><text x="311" y="873.5">2.0</text><text x="311" y="918.5">1.5</text><text x="311" y="963.5">1.0</text><text x="311" y="1008.5">0.5</text></g>
<text transform="translate(292,930) rotate(-90)" font-size="12.5" text-anchor="middle">Grip strength (N)</text>
<g stroke="#2f9fae" stroke-width="1.6"><line x1="349" x2="383" y1="927" y2="927" stroke-width="2.2"/><line x1="366" x2="366" y1="909" y2="943"/><line x1="356" x2="376" y1="909" y2="909"/><line x1="356" x2="376" y1="943" y2="943"/></g>
<g stroke="#d64c86" stroke-width="1.6"><line x1="407" x2="441" y1="902" y2="902" stroke-width="2.2"/><line x1="424" x2="424" y1="888" y2="916"/><line x1="414" x2="434" y1="888" y2="888"/><line x1="414" x2="434" y1="916" y2="916"/></g>
<g fill="#1d8c99"><circle cx="366" cy="903" r="3.7"/><circle cx="366" cy="916" r="3.7"/><circle cx="360" cy="936" r="3.7"/><circle cx="372" cy="937" r="3.7"/><circle cx="366" cy="942" r="3.7"/></g>
<g fill="#cf1d64"><circle cx="427" cy="880" r="3.7"/><circle cx="426" cy="899" r="3.7"/><circle cx="416" cy="904" r="3.7"/><circle cx="433" cy="903" r="3.7"/><circle cx="426" cy="918" r="3.7"/></g>
<line x1="366" x2="427" y1="866" y2="866" stroke="#444" stroke-width="1.2"/>
<text x="396" y="868" font-size="13" text-anchor="middle">*</text>
<text transform="translate(370,1017) rotate(-47)" font-size="13" text-anchor="end">Mock-CAR</text>
<text transform="translate(428,1017) rotate(-47)" font-size="13" text-anchor="end">NKG2D-CAR</text>

<!-- ================= L ================= -->
<text x="512" y="850" font-size="17">L</text>
<g stroke="#2b2b2b" stroke-width="1.5" fill="none"><path d="M558 866 V1002 H702"/><path d="M554 866 H558 M554 912 H558 M554 957 H558 M554 1002 H558 M606 1002 V1007 M665 1002 V1007"/></g>
<g font-size="10.5" text-anchor="end"><text x="553" y="869.5">16</text><text x="553" y="915.5">14</text><text x="553" y="960.5">12</text><text x="553" y="1005.5">10</text></g>
<text transform="translate(537,928) rotate(-90)" font-size="12.5" text-anchor="middle">Max speed (r/min)</text>
<g stroke="#2f9fae" stroke-width="1.6"><line x1="589" x2="623" y1="951" y2="951" stroke-width="2.2"/><line x1="606" x2="606" y1="931" y2="971"/><line x1="596" x2="616" y1="931" y2="931"/><line x1="596" x2="616" y1="971" y2="971"/></g>
<g stroke="#d64c86" stroke-width="1.6"><line x1="648" x2="682" y1="910" y2="910" stroke-width="2.2"/><line x1="665" x2="665" y1="890" y2="930"/><line x1="655" x2="675" y1="890" y2="890"/><line x1="655" x2="675" y1="930" y2="930"/></g>
<g fill="#1d8c99"><circle cx="606" cy="922" r="3.7"/><circle cx="606" cy="943" r="3.7"/><circle cx="606" cy="951" r="3.7"/><circle cx="606" cy="963" r="3.7"/><circle cx="606" cy="975" r="3.7"/></g>
<g fill="#cf1d64"><circle cx="665" cy="884" r="3.7"/><circle cx="665" cy="893" r="3.7"/><circle cx="658" cy="918" r="3.7"/><circle cx="672" cy="918" r="3.7"/><circle cx="665" cy="932" r="3.7"/></g>
<line x1="605" x2="665" y1="871" y2="871" stroke="#444" stroke-width="1.2"/>
<text x="635" y="873" font-size="13" text-anchor="middle">*</text>
<text transform="translate(610,1015) rotate(-47)" font-size="13" text-anchor="end">Mock-CAR</text>
<text transform="translate(669,1015) rotate(-47)" font-size="13" text-anchor="end">NKG2D-CAR</text>
</svg>
</body></html>
